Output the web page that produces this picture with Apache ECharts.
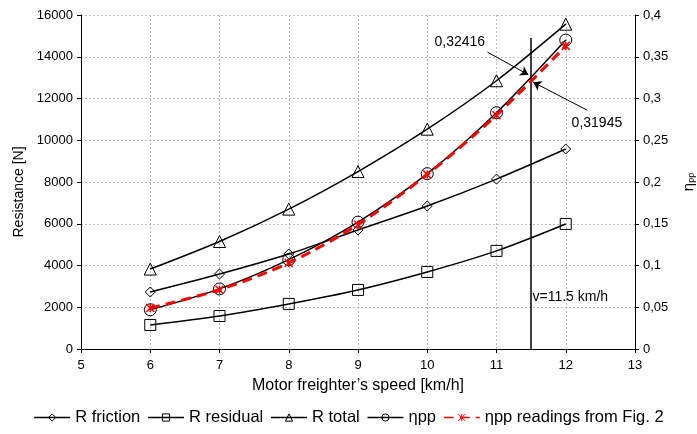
<!DOCTYPE html>
<html>
<head>
<meta charset="utf-8">
<script src="https://cdn.jsdelivr.net/npm/echarts@6/dist/echarts.min.js"></script>
<style>
html,body{margin:0;padding:0;background:#fff;}
#chart{width:697px;height:434px;}
</style>
</head>
<body>
<div id="chart"></div>
<script>
var speeds = [6, 7, 8, 9, 10, 11, 12];
var rFriction = [2730, 3590, 4550, 5700, 6850, 8140, 9580];
var rResidual = [1150, 1580, 2160, 2830, 3690, 4700, 5990];
var rTotal = [3830, 5150, 6700, 8500, 10530, 12850, 15560];
var etaPP = [0.047, 0.072, 0.107, 0.152, 0.21, 0.283, 0.370];
var etaFig2 = [0.049, 0.071, 0.103, 0.149, 0.209, 0.280, 0.363];

function pairs(ys){
    return speeds.map(function(x, i){ return [x, ys[i]]; });
}
function comma(v){ return String(v).replace('.', ','); }

var font = 'Liberation Sans, Arial, sans-serif';
var hollow = {color: 'rgba(255,255,255,0)', borderColor: '#000', borderWidth: 1};
var star = 'path://M0,0L10,10M10,0L0,10M5,0L5,10';

var option = {
    animation: false,
    backgroundColor: '#fff',
    textStyle: {fontFamily: font},
    grid: {left: 81, right: 62, top: 15, bottom: 85, outerBoundsMode: 'none'},
    legend: {
        bottom: 3,
        left: 'center',
        itemWidth: 36,
        itemHeight: 9,
        itemGap: 7,
        itemStyle: {borderWidth: 1},
        lineStyle: {width: 1.5},
        textStyle: {fontFamily: font, fontSize: 16.5, color: '#000'},
        data: ['R friction', 'R residual', 'R total', 'ηpp', 'ηpp readings from Fig. 2']
    },
    xAxis: {
        type: 'value', min: 5, max: 13, interval: 1,
        name: 'Motor freighter’s speed [km/h]',
        nameLocation: 'middle', nameGap: 29,
        nameTextStyle: {fontSize: 16, color: '#000'},
        axisLine: {lineStyle: {color: '#000'}},
        axisTick: {show: true, length: 4, lineStyle: {color: '#000'}},
        axisLabel: {fontSize: 13, color: '#000', margin: 10},
        splitLine: {show: true, lineStyle: {color: '#bbb', type: [2, 2]}}
    },
    yAxis: [{
        type: 'value', min: 0, max: 16000, interval: 2000,
        name: 'Resistance [N]',
        nameLocation: 'middle', nameGap: 55,
        nameTextStyle: {fontSize: 14, color: '#000', padding: [0, 20, 0, 0]},
        axisLine: {show: true, lineStyle: {color: '#000'}},
        axisTick: {show: true, length: 4, lineStyle: {color: '#000'}},
        axisLabel: {fontSize: 13, color: '#000', margin: 8, formatter: function(v){ return String(v); }},
        splitLine: {show: true, lineStyle: {color: '#bbb', type: [2, 2]}}
    }, {
        type: 'value', min: 0, max: 0.4, interval: 0.05,
        name: '{a|η}{b|pp}',
        nameLocation: 'middle', nameGap: 46, nameRotate: 90,
        nameTextStyle: {fontSize: 14, color: '#000', rich: {a: {fontSize: 15, color: '#000'}, b: {fontSize: 9, color: '#000', verticalAlign: 'bottom', padding: [6, 0, 0, 0]}}},
        axisLine: {show: true, lineStyle: {color: '#000'}},
        axisTick: {show: true, length: 4, lineStyle: {color: '#000'}},
        axisLabel: {fontSize: 13, color: '#000', margin: 8, formatter: function(v){ return comma(+v.toFixed(2)); }},
        splitLine: {show: false}
    }],
    series: [{
        name: 'R friction', type: 'line', smooth: 0.3,
        data: pairs(rFriction),
        symbol: 'diamond', symbolSize: 10,
        itemStyle: hollow, lineStyle: {color: '#000', width: 1.5}
    }, {
        name: 'R residual', type: 'line', smooth: 0.3,
        data: pairs(rResidual),
        symbol: 'rect', symbolSize: 11,
        itemStyle: hollow, lineStyle: {color: '#000', width: 1.5}
    }, {
        name: 'R total', type: 'line', smooth: 0.3,
        data: pairs(rTotal),
        symbol: 'triangle', symbolSize: 12,
        itemStyle: hollow, lineStyle: {color: '#000', width: 1.5},
        markLine: {
            silent: true, symbol: ['none', 'none'],
            lineStyle: {color: '#000', width: 1.5, type: 'solid'},
            label: {show: false},
            data: [[{coord: [11.5, 0]}, {coord: [11.5, 14900]}]]
        },
        markPoint: {
            symbol: 'circle', symbolSize: 0,
            label: {color: '#000', fontSize: 14, fontFamily: font},
            data: [
                {coord: [10.47, 14700], label: {formatter: '0,32416'}},
                {coord: [12.45, 10830], label: {formatter: '0,31945'}},
                {coord: [11.52, 2490], label: {formatter: 'v=11.5 km/h', position: 'right', distance: 0}}
            ]
        }
    }, {
        name: 'ηpp', type: 'line', smooth: 0.3, yAxisIndex: 1,
        data: pairs(etaPP),
        symbol: 'circle', symbolSize: 12,
        itemStyle: hollow, lineStyle: {color: '#000', width: 1.5},
        markLine: {
            silent: true, symbol: ['none', 'arrow'], symbolSize: 8,
            lineStyle: {color: '#000', width: 1, type: 'solid'},
            label: {show: false},
            data: [
                [{coord: [10.87, 0.3555]}, {coord: [11.46, 0.3285]}],
                [{coord: [12.31, 0.286]}, {coord: [11.53, 0.3195]}]
            ]
        }
    }, {
        name: 'ηpp readings from Fig. 2', type: 'line', smooth: 0.3, yAxisIndex: 1,
        data: pairs(etaFig2),
        symbol: star, symbolSize: 8,
        itemStyle: {color: '#f00', borderColor: '#f00', borderWidth: 1.5},
        lineStyle: {color: '#f00', width: 3, type: [10, 6]},
        z: 5
    }]
};

var myChart = echarts.init(document.getElementById('chart'));
myChart.setOption(option);
</script>
</body>
</html>
